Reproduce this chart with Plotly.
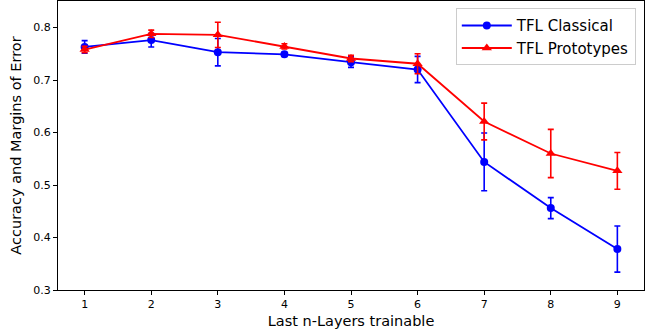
import plotly.graph_objects as go

layers = [1, 2, 3, 4, 5, 6, 7, 8, 9]
classical = [0.763, 0.776, 0.753, 0.749, 0.734, 0.720, 0.544, 0.456, 0.378]
classical_err = [0.012, 0.013, 0.026, 0.004, 0.010, 0.025, 0.055, 0.020, 0.044]
prototypes = [0.758, 0.788, 0.786, 0.764, 0.741, 0.731, 0.621, 0.560, 0.527]
prototypes_err = [0.006, 0.007, 0.024, 0.005, 0.006, 0.019, 0.035, 0.046, 0.035]

fig = go.Figure()
fig.add_trace(go.Scatter(
    x=layers, y=classical, name="TFL Classical", mode="lines+markers",
    line=dict(color="blue", width=1.8),
    marker=dict(symbol="circle", size=8, color="blue"),
    error_y=dict(type="data", array=classical_err, visible=True, color="blue", thickness=1.6, width=3),
))
fig.add_trace(go.Scatter(
    x=layers, y=prototypes, name="TFL Prototypes", mode="lines+markers",
    line=dict(color="red", width=1.8),
    marker=dict(symbol="triangle-up", size=9, color="red"),
    error_y=dict(type="data", array=prototypes_err, visible=True, color="red", thickness=1.6, width=3),
))

fig.update_layout(
    width=659, height=334,
    margin=dict(l=58, r=15, t=1, b=44),
    plot_bgcolor="white", paper_bgcolor="white",
    font=dict(family="DejaVu Sans", color="black"),
    showlegend=True,
    legend=dict(
        x=0.986, y=0.975, xanchor="right", yanchor="top",
        bgcolor="rgba(255,255,255,0.8)", bordercolor="#cccccc", borderwidth=1,
        font=dict(size=15), itemwidth=50,
    ),
    xaxis=dict(
        range=[0.6, 9.4], tickmode="array", tickvals=layers,
        showgrid=False, zeroline=False, showline=True, mirror=True,
        linecolor="black", linewidth=1, ticks="outside", ticklen=4, tickcolor="black",
        tickfont=dict(size=11),
        title=dict(text="Last n-Layers trainable", font=dict(size=14.5), standoff=5),
    ),
    yaxis=dict(
        range=[0.3, 0.8505], tickmode="array", tickvals=[0.3, 0.4, 0.5, 0.6, 0.7, 0.8],
        ticktext=["0.3", "0.4", "0.5", "0.6", "0.7", "0.8"],
        showgrid=False, zeroline=False, showline=True, mirror=True,
        linecolor="black", linewidth=1, ticks="outside", ticklen=4, tickcolor="black",
        tickfont=dict(size=11),
        title=dict(text="Accuracy and Margins of Error", font=dict(size=14.5), standoff=8),
    ),
)

fig.write_html("out.html")
